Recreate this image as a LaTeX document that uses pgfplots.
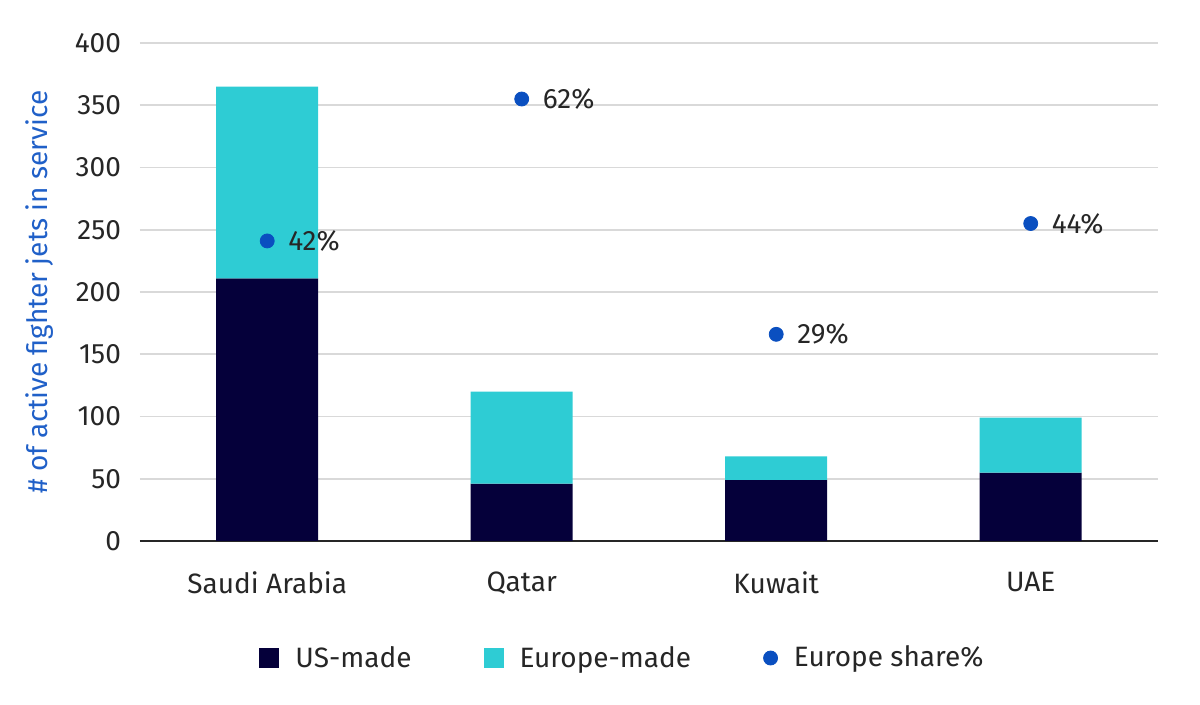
\documentclass[border=0pt]{standalone}
\usepackage{pgfplots}
\pgfplotsset{compat=1.18}
\usepackage{fontspec}
\setmainfont{Fira Sans}
\definecolor{navy}{HTML}{05003A}
\definecolor{cyanbar}{HTML}{2ECCD4}
\definecolor{dotblue}{HTML}{0A4FC0}
\definecolor{lblue}{HTML}{2060C8}
\newcommand\lf{\fontsize{14}{16}\selectfont}
\begin{document}
\begin{tikzpicture}
\begin{axis}[
  scale only axis, width=509pt, height=249pt,
  xmin=-0.5, xmax=3.5, ymin=0, ymax=400,
  ytick={0,50,...,400},
  xtick={0,1,2,3}, xticklabels={Saudi Arabia,Qatar,Kuwait,UAE},
  major tick length=0pt,
  axis y line*=left, axis x line*=bottom,
  y axis line style={draw=none},
  x axis line style={draw=black!85, line width=0.8pt},
  ymajorgrids, grid style={gray!30, line width=0.8pt},
  tick label style={font=\lf, text=black!85},
  /pgf/number format/assume math mode=true,
  yticklabel style={xshift=-6pt},
  xticklabel style={yshift=-12pt},
  ylabel={\# of active fighter jets in service},
  ylabel style={font=\lf, text=lblue, yshift=4pt},
  clip=false,
  legend style={at={(0.475,-0.235)}, anchor=center, draw=none, legend columns=3,
    font=\lf, text=black!85,
    /tikz/every odd column/.append style={column sep=6pt},
    /tikz/every even column/.append style={column sep=34pt}},
]
\addplot[ybar stacked, bar width=51pt, fill=navy, draw=none,
  legend image code/.code={\fill[navy] (0pt,-5pt) rectangle (10pt,5pt);}] coordinates {(0,211) (1,46) (2,49) (3,55)};
\addlegendentry{US-made}
\addplot[ybar stacked, bar width=51pt, fill=cyanbar, draw=none,
  legend image code/.code={\fill[cyanbar] (0pt,-5pt) rectangle (10pt,5pt);}] coordinates {(0,154) (1,74) (2,19) (3,44)};
\addlegendentry{Europe-made}
\addplot[only marks, mark=*, mark size=3.5pt, color=dotblue,
  legend image code/.code={\fill[dotblue] (5pt,0pt) circle (3.5pt);},
  point meta=explicit symbolic,
  nodes near coords, nodes near coords align={anchor=west},
  every node near coord/.append style={font=\lf, text=black!85, xshift=7pt}]
  coordinates {(0,241)[42\%] (1,355)[62\%] (2,166)[29\%] (3,255)[44\%]};
\addlegendentry{Europe share\%}
\path (rel axis cs:-0.1375,-0.3293) rectangle (rel axis cs:1.0413,1.0863);
\end{axis}
\end{tikzpicture}
\end{document}
